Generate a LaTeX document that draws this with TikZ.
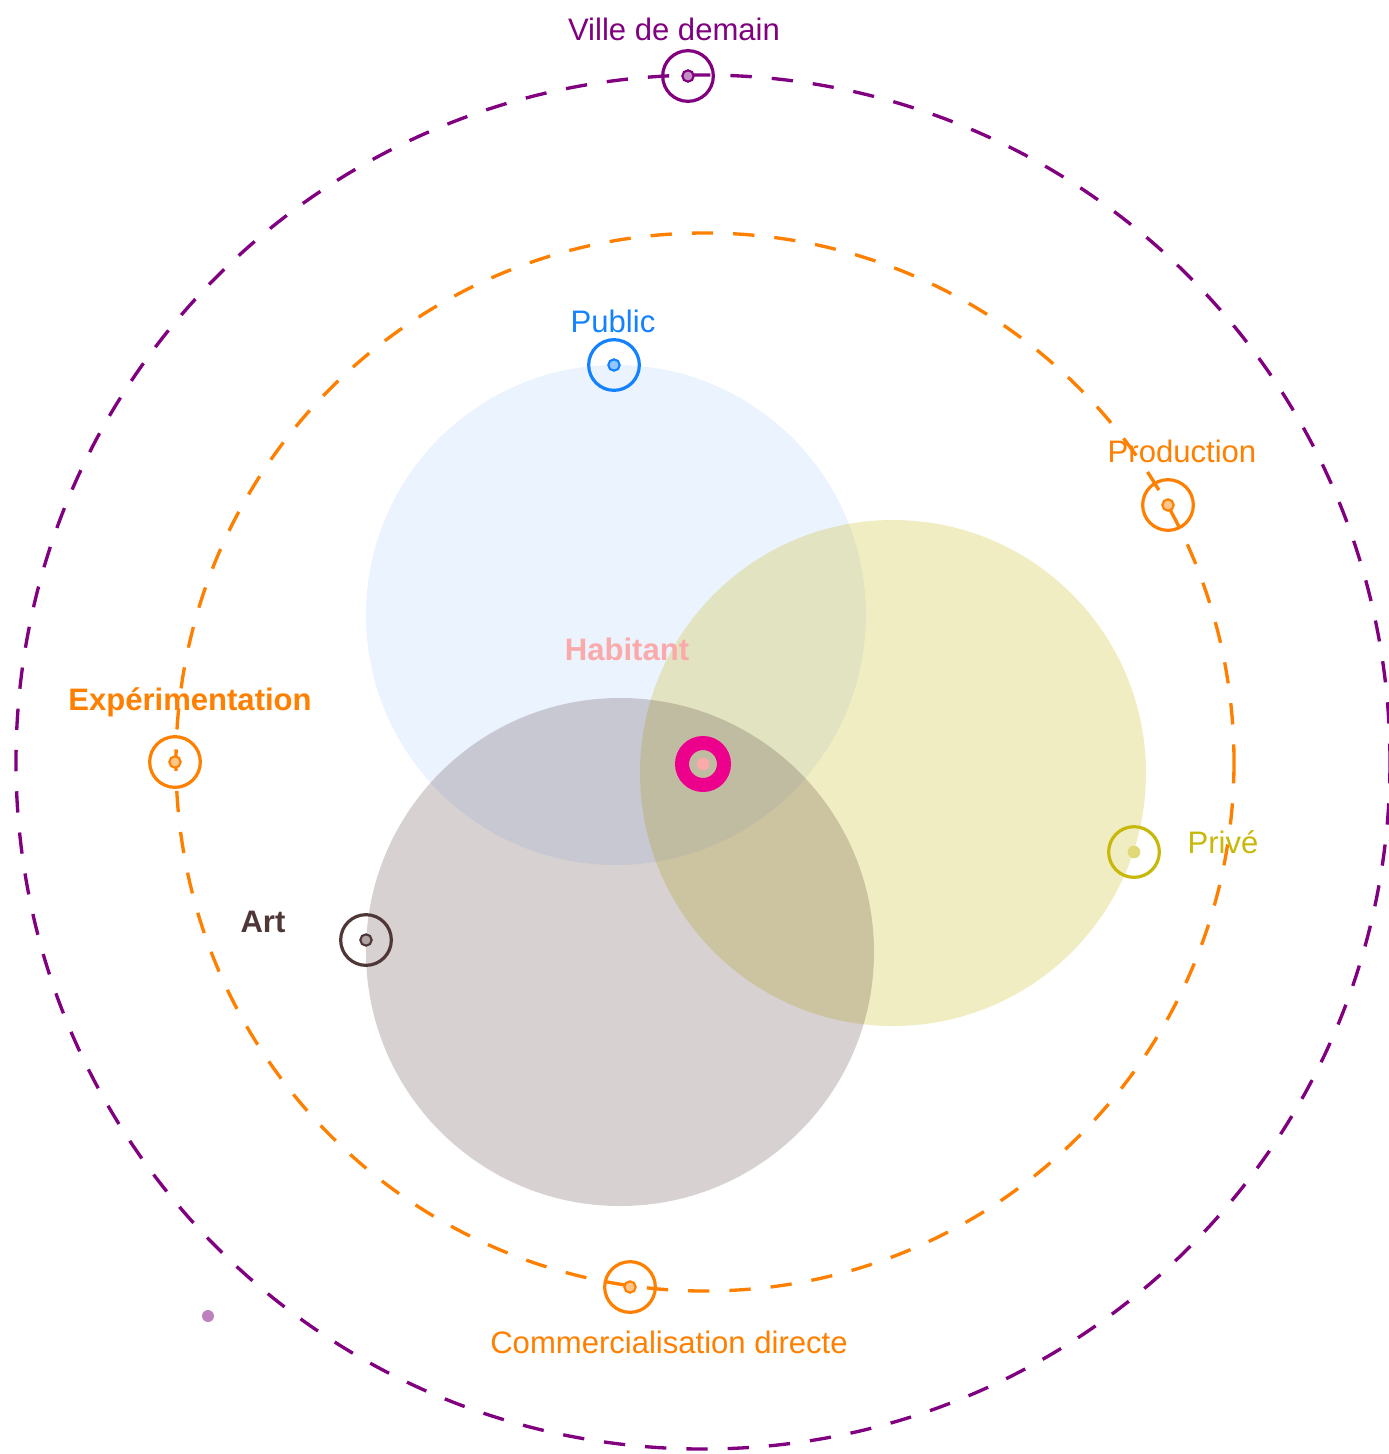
\documentclass[tikz,border=0pt]{standalone}
\usepackage{fontspec}
\setmainfont{Liberation Sans}
\definecolor{cpurple}{RGB}{128,0,128}
\definecolor{corange}{RGB}{255,128,0}
\definecolor{cblue}{RGB}{20,130,255}
\definecolor{cbluefill}{RGB}{0,100,255}
\definecolor{colive}{RGB}{200,184,10}
\definecolor{cbrown}{RGB}{80,55,55}
\definecolor{cmagenta}{RGB}{236,0,140}
\definecolor{cpink}{RGB}{250,170,170}
\begin{document}
\begin{tikzpicture}[x=0.75pt,y=-0.75pt]
\tikzset{
  orbit/.style={line width=2.5pt, dash pattern=on 16pt off 15pt},
  marker/.style={circle, draw=#1, line width=2.4pt, minimum size=38pt, inner sep=0pt},
  core/.style={circle, draw=#1, line width=1.6pt, fill=#1!45, minimum size=8.5pt, inner sep=0pt},
  lbl/.style={font=\fontsize{23.3}{26}\selectfont, text=#1, inner sep=0pt},
  blbl/.style={font=\fontsize{23.3}{26}\selectfont\bfseries, text=#1, inner sep=0pt},
}
\useasboundingbox (0,0) rectangle (1389,1454);
% orbits
\draw[orbit, cpurple] (703,762) circle (687);
\draw[orbit, corange] (705,762) circle (529);
% sets
\fill[cbluefill, opacity=0.08] (616,615) circle (250);
\fill[colive, opacity=0.25] (893,773) circle (253);
\fill[cbrown, opacity=0.23] (620,952) circle (254);
% markers
\node[marker=cpurple] (villem) at (688,76) {};
\node[core=cpurple] (villec) at (688,76) {};
\node[marker=cblue] (pubm) at (614,365) {};
\node[core=cblue] (pubc) at (614,365) {};
\node[marker=corange] (prodm) at (1168,505) {};
\node[core=corange] (prodc) at (1168,505) {};
\node[marker=corange] (expm) at (175,762) {};
\node[core=corange] (expc) at (175,762) {};
\node[marker=colive] (privm) at (1134,852) {};
\node[circle, fill=colive!55, minimum size=9.5pt, inner sep=0pt] (privc) at (1134,852) {};
\node[marker=cbrown] (artm) at (366,940) {};
\node[core=cbrown] (artc) at (366,940) {};
\node[marker=corange] (comm) at (630,1287) {};
\node[core=corange] (comc) at (630,1287) {};
\node[circle, draw=cmagenta, line width=10.5pt, minimum size=31.5pt, inner sep=0pt] (habm) at (703,764) {};
\node[circle, fill=cpink, minimum size=9.5pt, inner sep=0pt] (habc) at (703,764) {};
\node[circle, fill=cpurple!50, minimum size=9pt, inner sep=0pt] (dot) at (208,1316) {};
% labels
\node[lbl=cpurple] (villet) at (674,29) {Ville de demain};
\node[lbl=cblue] (pubt) at (613,321) {Public};
\node[lbl=corange] (prodt) at (1182,451) {Production};
\node[blbl=corange] (expt) at (190,702) {Expérimentation};
\node[blbl=cpink] (habt) at (627,649) {Habitant};
\node[lbl=colive] (privt) at (1223,842) {Privé};
\node[blbl=cbrown] (artt) at (263,922) {Art};
\node[lbl=corange] (comt) at (669,1342) {Commercialisation directe};
\end{tikzpicture}
\end{document}
